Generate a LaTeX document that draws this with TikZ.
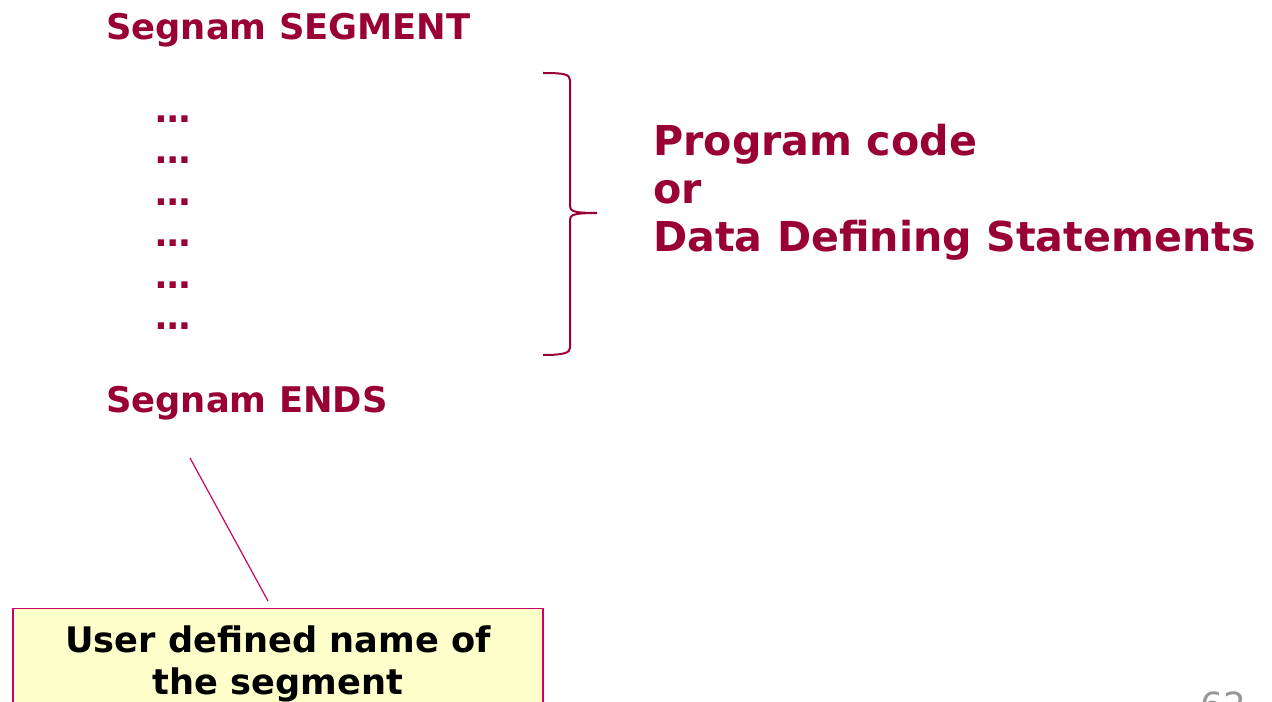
\documentclass[tikz,border=0pt]{standalone}
\usepackage{fontspec}
\setmainfont{DejaVu Sans}
\definecolor{segred}{RGB}{153,0,51}
\definecolor{boxline}{RGB}{204,0,102}
\definecolor{boxfill}{RGB}{255,255,204}
\definecolor{pagegray}{RGB}{150,150,150}

\tikzset{
  keyword/.style={text=segred, font=\fontsize{26.5}{32}\selectfont\bfseries, anchor=base west, inner sep=0pt},
  bigword/.style={text=segred, font=\fontsize{30.9}{36}\selectfont\bfseries, anchor=base west, inner sep=0pt},
  namebox/.style={draw=boxline, line width=0.9pt, fill=boxfill, text=black,
    font=\fontsize{26.4}{31.5}\selectfont\bfseries, align=center,
    minimum width=530*0.75pt, inner ysep=12.5pt, anchor=north},
  bracestyle/.style={draw=segred, line width=1.5pt},
  pointer/.style={draw=boxline, line width=0.9pt}
}

\begin{document}
\begin{tikzpicture}[x=0.75pt, y=-0.75pt]

    % Marco de la figura
    \useasboundingbox (0,0) rectangle (1272,702);
    \clip (0,0) rectangle (1272,702);

    % Cabecera y cierre del segmento
    \node[keyword] (segm) at (106,40) {Segnam SEGMENT};
    \node[keyword] (ends) at (106,412) {Segnam ENDS};

    % Puntos suspensivos
    \foreach \y [count=\i] in {123,164,206,247,289,330}
      \node[keyword] (dots\i) at (155,\y) {…};

    % Llave
    \coordinate (btop) at (543,73);
    \coordinate (btip) at (597,213);
    \coordinate (bbot) at (543,355);
    \draw[bracestyle] (btop) .. controls (563,73) and (570,74) .. (570,80)
      -- (570,206) .. controls (570,211) and (573,213) .. (btip)
      .. controls (573,213) and (570,215) .. (570,220)
      -- (570,348) .. controls (570,353) and (563,355) .. (bbot);

    % Texto a la derecha
    \node[bigword] (prog) at (653,156) {Program code};
    \node[bigword] (orword) at (653,204) {or};
    \node[bigword] (ddstat) at (653,252) {Data Defining Statements};

    % Caja con la explicacion
    \node[namebox] (namebox) at (278,608) {User defined name of\\the segment};
    \coordinate (endstip) at (190,458);
    \draw[pointer] (endstip) -- ([xshift=-7.5pt, yshift=5.25pt]namebox.north);

    % Numero de pagina
    \node[text=pagegray, font=\fontsize{27}{30}\selectfont, anchor=base west, inner sep=0pt] (pagenum) at (1200,718) {62};

\end{tikzpicture}
\end{document}
